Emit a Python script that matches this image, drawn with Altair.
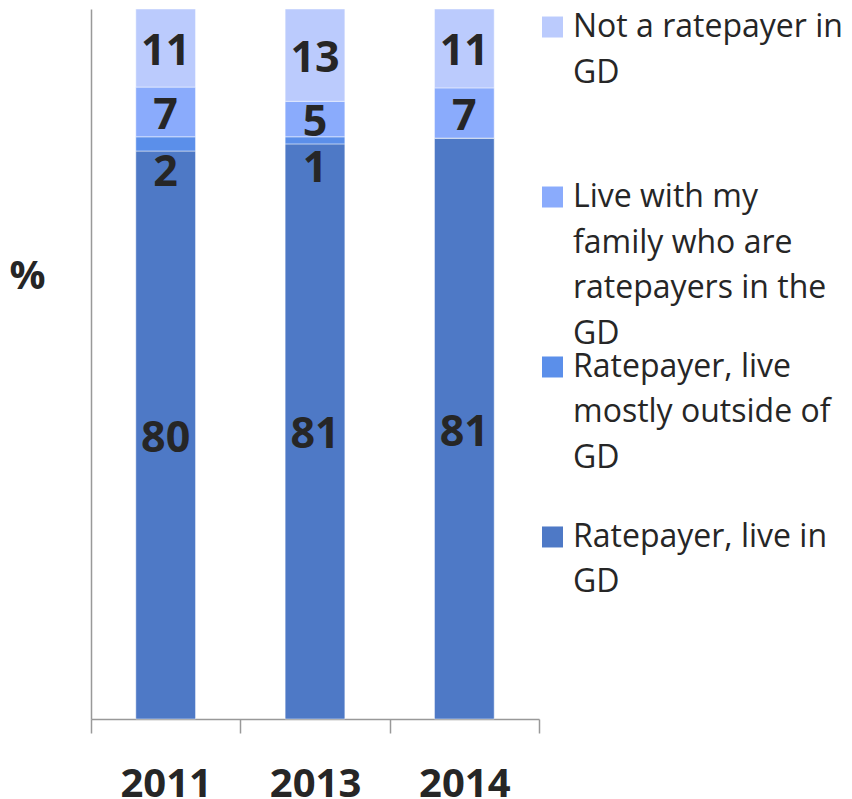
import altair as alt
import pandas as pd

# ---- data ----
years = ["2011", "2013", "2014"]
# stacking order, bottom -> top
categories = [
    "Ratepayer, live in GD",
    "Ratepayer, live mostly outside of GD",
    "Live with my family who are ratepayers in the GD",
    "Not a ratepayer in GD",
]
live_in = [80, 81, 81]
outside = [2, 1, 0]
family = [7, 5, 7]
not_ratepayer = [11, 13, 11]
colors = ["#4E79C6", "#5B8FEA", "#8AABFC", "#BBCBFD"]

# legend (top -> bottom) with the reference's line wrapping
legend_order = categories[::-1]
legend_text = [
    "Not a ratepayer in\nGD",
    "Live with my\nfamily who are\nratepayers in the\nGD",
    "Ratepayer, live\nmostly outside of\nGD",
    "Ratepayer, live in\nGD",
]

series = [live_in, outside, family, not_ratepayer]
rows = []
for i, y in enumerate(years):
    for k, cat in enumerate(categories):
        rows.append({"year": y, "category": cat, "k": k, "value": series[k][i]})
df = pd.DataFrame(rows)

legend_df = pd.DataFrame({"category": legend_order, "label": legend_text})

FONT = "Open Sans"
TXT = "#262626"
AX = "#999999"

color_scale = alt.Scale(domain=categories, range=colors)

base = alt.Chart(df).transform_stack(
    stack="value",
    groupby=["year"],
    sort=[alt.SortField("k", order="ascending")],
    as_=["y0", "y1"],
    offset="normalize",
).transform_calculate(mid="(datum.y0 + datum.y1) / 2")

x_enc = alt.X(
    "year:N",
    sort=years,
    scale=alt.Scale(paddingInner=0, paddingOuter=0),
    axis=alt.Axis(
        title=None,
        labelAngle=0,
        tickBand="extent",
        tickSize=14,
        tickColor=AX,
        tickWidth=1.5,
        domainColor=AX,
        domainWidth=1.5,
        labelPadding=31,
        labelFont=FONT,
        labelFontSize=40,
        labelFontWeight="bold",
        labelColor=TXT,
        grid=False,
    ),
)
y_scale = alt.Scale(domain=[0, 1], nice=False, zero=True)

bars = base.mark_bar(width={"band": 0.4}, stroke="white", strokeWidth=0.8, strokeOpacity=0.6).encode(
    x=x_enc,
    y=alt.Y(
        "y0:Q",
        scale=y_scale,
        axis=alt.Axis(
            title="%",
            titleAngle=0,
            titleAlign="center",
            titleBaseline="alphabetic",
            titleX=-64,
            titleY=279,
            titleFont=FONT,
            titleFontSize=40,
            titleFontWeight="bold",
            titleColor=TXT,
            labels=False,
            ticks=False,
            grid=False,
            domainColor=AX,
            domainWidth=1.5,
        ),
    ),
    y2="y1:Q",
    color=alt.Color("category:N", scale=color_scale, legend=None),
)

labels_big = base.transform_filter("datum.value >= 3").mark_text(
    font=FONT, fontSize=43, fontWeight="bold", color=TXT, baseline="middle", dy=4
).encode(
    x=alt.X("year:N", sort=years),
    y=alt.Y("mid:Q", scale=y_scale),
    text=alt.Text("value:Q", format="d"),
)

labels_small = base.transform_filter("datum.value > 0 && datum.value < 3").mark_text(
    font=FONT, fontSize=43, fontWeight="bold", color=TXT, baseline="middle", dy=29
).encode(
    x=alt.X("year:N", sort=years),
    y=alt.Y("mid:Q", scale=y_scale),
    text=alt.Text("value:Q", format="d"),
)

main = alt.layer(bars, labels_big, labels_small).properties(width=448, height=710)

leg_y = alt.Y(
    "category:N",
    sort=legend_order,
    scale=alt.Scale(type="point", padding=0.106),
    axis=None,
)
leg_squares = alt.Chart(legend_df).mark_square(size=441, opacity=1).encode(
    x=alt.value(12.5),
    y=leg_y,
    color=alt.Color("category:N", scale=color_scale, legend=None),
)
leg_text = alt.Chart(legend_df).mark_text(
    align="left",
    baseline="alphabetic",
    dy=10,
    lineBreak="\n",
    lineHeight=45.5,
    font=FONT,
    fontSize=32,
    color=TXT,
).encode(
    x=alt.value(33),
    y=leg_y,
    text="label:N",
)
legend = alt.layer(leg_squares, leg_text).properties(width=300, height=546)

chart = (
    alt.hconcat(main, legend, spacing=0)
    .resolve_scale(x="independent", y="independent")
    .properties(padding={"left": 0, "top": 0, "right": 0, "bottom": 0})
    .configure_view(stroke=None)
)

chart.save("out.html", embed_options={"renderer": "svg", "actions": False})
